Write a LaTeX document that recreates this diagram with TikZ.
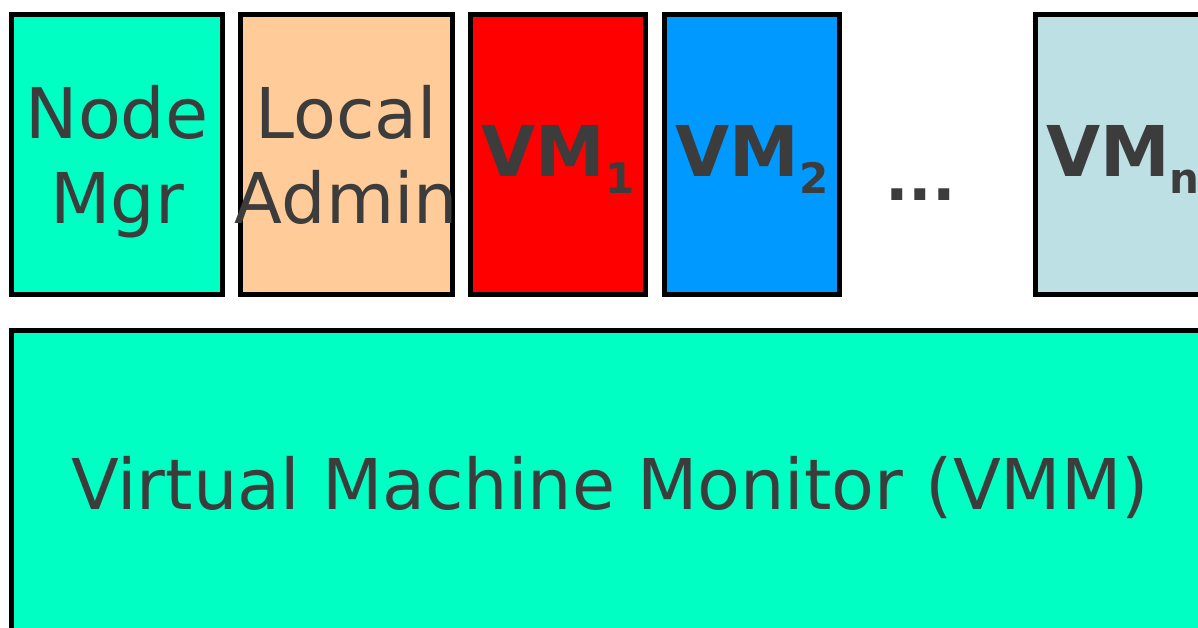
\documentclass[tikz,border=0pt]{standalone}
\usepackage{fontspec}
\setmainfont{DejaVu Sans}
\definecolor{mint}{HTML}{00FFC3}
\definecolor{peach}{HTML}{FFCC99}
\definecolor{vmred}{HTML}{FF0000}
\definecolor{vmblue}{HTML}{0099FF}
\definecolor{vmpale}{HTML}{BCE0E3}
\definecolor{txt}{HTML}{3C3C3C}
\tikzset{
  box/.style={draw=black, line width=5pt, inner sep=0pt, minimum width=#1},
  topbox/.style={box=#1, minimum height=280pt},
  lbl/.style={inner sep=0pt, text=txt, font=\fontsize{70}{85}\selectfont, align=center},
  vmlbl/.style={inner sep=0pt, text=txt, font=\fontsize{70}{84}\selectfont\bfseries},
}
\newcommand{\vmsub}[1]{\raisebox{-17pt}{\fontsize{42}{42}\selectfont\bfseries #1}}
\begin{document}
\begin{tikzpicture}[x=1pt,y=-1pt]
\useasboundingbox (0,0) rectangle (1198,627);
\clip (0,0) rectangle (1198,627);
% top boxes
\node[topbox=211pt, fill=mint]  (nm) at (117,154.5) {};
\node[topbox=212pt, fill=peach] (la) at (346.5,154.5) {};
\node[topbox=175pt, fill=vmred]  (vm1) at (558,154.5) {};
\node[topbox=175pt, fill=vmblue] (vm2) at (752,154.5) {};
\node[topbox=175pt, fill=vmpale] (vmn) at (1123,154.5) {};
% VMM box
\node[box=1200pt, minimum height=310pt, fill=mint] (vmm) at (611.5,485.5) {};
% labels
\node[lbl, anchor=north] (nmt) at (117,85.5) {Node\\Mgr};
\node[lbl, anchor=north] (lat) at (346.5,85.5) {Local\\Admin};
\node[vmlbl, anchor=base] (vm1t) at (558,176) {VM\vmsub{1}};
\node[vmlbl, anchor=base] (vm2t) at (752,176) {VM\vmsub{2}};
\node[vmlbl, anchor=base] (vmnt) at (1123,176) {VM\vmsub{n}};
\node[inner sep=0pt, text=txt, font=\fontsize{62}{62}\selectfont\bfseries, anchor=base] (dots) at (920.5,200) {...};
\node[lbl, anchor=base] (vmmt) at (610,509) {Virtual Machine Monitor (VMM)};
\end{tikzpicture}
\end{document}
